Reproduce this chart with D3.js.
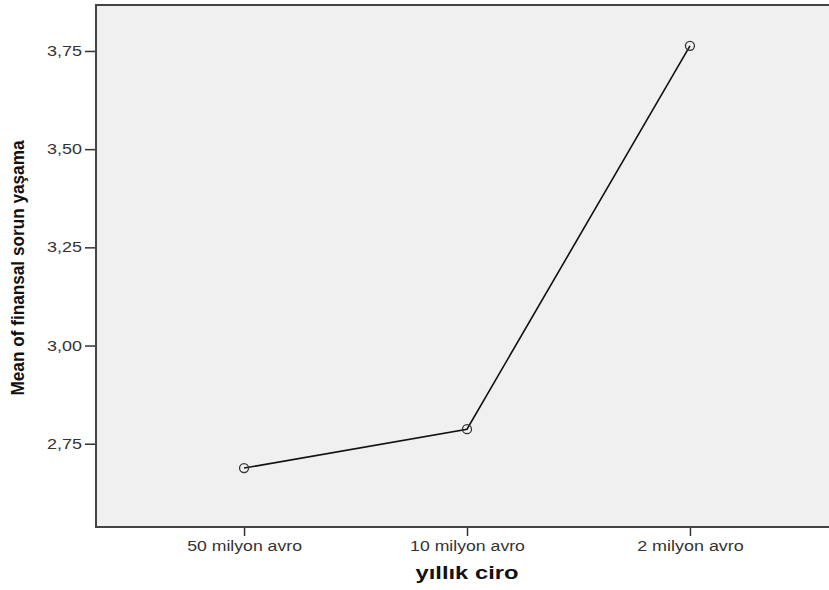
<!DOCTYPE html>
<html><head><meta charset="utf-8">
<script src="https://cdn.jsdelivr.net/npm/d3@7"></script>
<style>body{margin:0;background:#fff}svg{display:block}</style>
</head><body>
<svg id="c" width="829" height="590"></svg>
<script>
const categories = ["50 milyon avro", "10 milyon avro", "2 milyon avro"];
const means = [2.688, 2.787, 3.763];
const yTicks = [2.75, 3.00, 3.25, 3.50, 3.75];
const xTitle = "yıllık ciro";
const yTitle = "Mean of finansal sorun yaşama";

const svg = d3.select("#c");
const L = 96, T = 5, R = 838, B = 527;
const FF = "Liberation Sans, Arial, sans-serif";

const x = d3.scalePoint().domain(categories).range([L, R]).padding(0.664);
const y = d3.scaleLinear().domain([2.538, 3.867]).range([B, T]);

svg.append("rect").attr("x", L).attr("y", T).attr("width", R - L).attr("height", B - T)
  .attr("fill", "#f0f0f0");
svg.append("path").attr("d", `M${R},${T}H${L}V${B}H${R}`)
  .attr("fill", "none").attr("stroke", "#444").attr("stroke-width", 2);

const fmt = d => d3.format(".2f")(d).replace(".", ",");
const ya = svg.append("g").attr("transform", `translate(${L-1},0)`)
  .call(d3.axisLeft(y).tickValues(yTicks).tickFormat(fmt).tickSize(10).tickPadding(3));
ya.select(".domain").remove();
ya.selectAll(".tick line").attr("stroke", "#333").attr("stroke-width", 1.5);
ya.selectAll(".tick text").attr("font-family", FF).attr("font-size", 14).attr("fill", "#333")
  .attr("textLength", 35).attr("lengthAdjust", "spacingAndGlyphs");

const xa = svg.append("g").attr("transform", `translate(0,${B+1})`)
  .call(d3.axisBottom(x).tickSize(8).tickPadding(5));
xa.select(".domain").remove();
xa.selectAll(".tick line").attr("stroke", "#333").attr("stroke-width", 1.5);
xa.selectAll(".tick text").attr("font-family", FF).attr("font-size", 14).attr("fill", "#333")
  .attr("textLength", d => d.length * 8.2).attr("lengthAdjust", "spacingAndGlyphs");

const pts = categories.map((c, i) => [x(c), y(means[i])]);
svg.append("path").attr("d", d3.line()(pts)).attr("fill", "none").attr("stroke", "#111").attr("stroke-width", 1.6);
svg.selectAll("circle.pt").data(pts).join("circle").attr("class", "pt")
  .attr("cx", d => d[0]).attr("cy", d => d[1]).attr("r", 4.5)
  .attr("fill", "none").attr("stroke", "#333").attr("stroke-width", 1.3);

svg.append("text").attr("x", x(categories[1])).attr("y", 579).attr("text-anchor", "middle")
  .attr("font-family", FF).attr("font-weight", "bold").attr("font-size", 18)
  .attr("fill", "#111").attr("textLength", 103).attr("lengthAdjust", "spacingAndGlyphs").text(xTitle);
svg.append("text").attr("transform", `translate(24,${(T+B)/2 + 2}) rotate(-90)`).attr("text-anchor", "middle")
  .attr("font-family", FF).attr("font-weight", "bold").attr("font-size", 19)
  .attr("fill", "#111").attr("textLength", 255).attr("lengthAdjust", "spacingAndGlyphs").text(yTitle);
</script>
</body></html>
